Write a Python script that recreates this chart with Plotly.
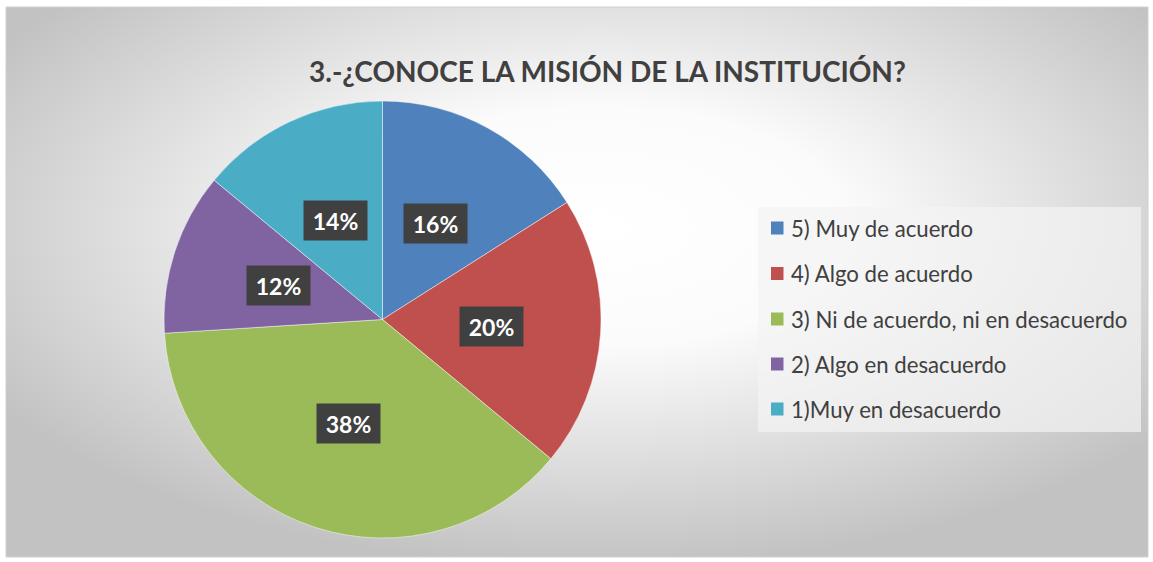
import math, base64
import plotly.graph_objects as go

# ---- data ----
labels = ["5) Muy de acuerdo", "4) Algo de acuerdo", "3) Ni de acuerdo, ni en desacuerdo",
          "2) Algo en desacuerdo", "1)Muy en desacuerdo"]
values = [16, 20, 38, 12, 14]
colors = ["#4F81BD", "#C0504D", "#9BBB59", "#8064A2", "#4BACC6"]
title = "3.-¿CONOCE LA MISIÓN DE LA INSTITUCIÓN?"

W, H = 1153, 562
FONT = "Lato"

def px(x):
    return x / W

def py(y):
    return 1 - y / H

# pie geometry (pixels)
cx, cy, R = 382.5, 319.5, 218.5

fig = go.Figure()
fig.add_trace(go.Pie(
    labels=labels, values=values, sort=False, direction="clockwise", rotation=0,
    marker=dict(colors=colors, line=dict(color="rgba(255,255,255,0.45)", width=1)),
    textinfo="none", hoverinfo="label+percent", showlegend=False,
    domain=dict(x=[px(cx - R), px(cx + R)], y=[py(cy + R), py(cy - R)]),
))

annotations = []
total = sum(values)
cum = 0
for v in values:
    mid = 2 * math.pi * (cum + v / 2) / total
    cum += v
    lx = cx + 0.5 * R * math.sin(mid)
    ly = cy - 0.5 * R * math.cos(mid)
    annotations.append(dict(
        x=px(lx), y=py(ly), xref="paper", yref="paper", showarrow=False,
        text=f"<b>{round(100 * v / total)}%</b>",
        font=dict(family=FONT, size=23, color="white"),
        bgcolor="#404040", width=55, height=31, borderpad=4,
        xanchor="center", yanchor="middle",
    ))

# title
annotations.append(dict(
    x=px(607), y=py(71), xref="paper", yref="paper", showarrow=False,
    text=f"<b>{title}</b>", font=dict(family=FONT, size=28, color="#404040"),
    xanchor="center", yanchor="middle",
))

shapes = []
# chart border
shapes.append(dict(type="rect", xref="paper", yref="paper", x0=px(6), x1=px(1148),
                   y0=py(557), y1=py(7), line=dict(color="#d0d0d0", width=1), layer="below"))
# legend box
shapes.append(dict(type="rect", xref="paper", yref="paper", x0=px(758), x1=px(1141),
                   y0=py(432), y1=py(207), line=dict(width=0),
                   fillcolor="rgba(244,244,244,0.7)", layer="below"))
row_y = [228, 273.5, 319, 364, 409]
for lab, col, ry in zip(labels, colors, row_y):
    shapes.append(dict(type="rect", xref="paper", yref="paper", x0=px(771), x1=px(783.5),
                       y0=py(ry + 6.5), y1=py(ry - 6.5), line=dict(width=0), fillcolor=col))
    annotations.append(dict(
        x=px(789), y=py(ry), xref="paper", yref="paper", showarrow=False,
        text=lab, font=dict(family=FONT, size=22.2, color="#404040"),
        xanchor="left", yanchor="middle",
    ))

# radial gradient background
svg = f'''<svg xmlns="http://www.w3.org/2000/svg" width="1142" height="550" viewBox="0 0 1142 550" preserveAspectRatio="none">
<defs><radialGradient id="g" cx="0.52" cy="0.4" r="0.62" gradientUnits="objectBoundingBox">
<stop offset="0" stop-color="#ffffff"/><stop offset="0.35" stop-color="#fbfbfb"/>
<stop offset="1" stop-color="#c2c2c2"/></radialGradient></defs>
<rect width="1142" height="550" fill="url(#g)"/></svg>'''
src = "data:image/svg+xml;base64," + base64.b64encode(svg.encode()).decode()

fig.update_layout(
    width=W, height=H, margin=dict(l=0, r=0, t=0, b=0),
    paper_bgcolor="white", plot_bgcolor="white",
    annotations=annotations, shapes=shapes,
    images=[dict(source=src, xref="paper", yref="paper", x=px(6), y=py(7),
                 sizex=px(1148) - px(6), sizey=py(7) - py(557),
                 sizing="stretch", layer="below", xanchor="left", yanchor="top")],
    showlegend=False,
)
fig.write_html("out.html", config={"displayModeBar": False},
               post_script="document.body.style.margin='0px';document.body.style.overflow='hidden';")
